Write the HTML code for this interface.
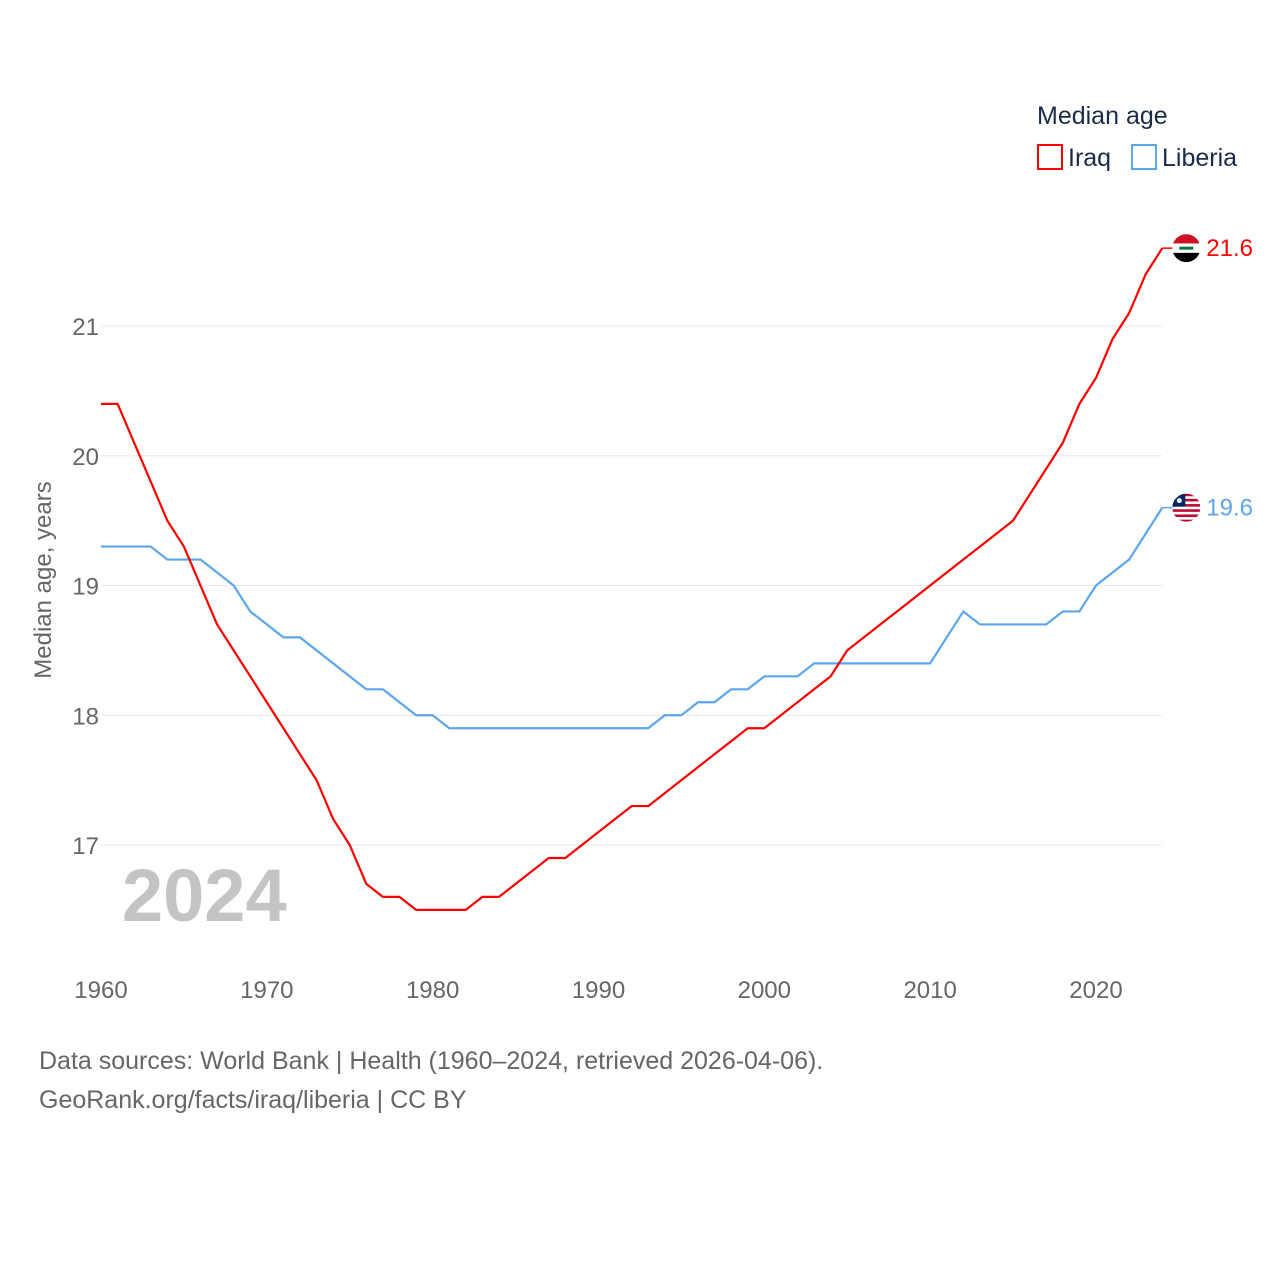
<!DOCTYPE html>
<html><head><meta charset="utf-8">
<style>
body{margin:0;background:#fff;font-family:"Liberation Sans",sans-serif;}
svg text{font-family:"Liberation Sans",sans-serif;}
</style></head>
<body>
<svg id="chart" width="1280" height="1280" xmlns="http://www.w3.org/2000/svg">
<defs id="defs"></defs>
<g id="grid"></g>
<g id="ticks"></g>
<text x="122" y="921" font-size="74" font-weight="bold" fill="#c4c4c4">2024</text>
<text transform="translate(51,580) rotate(-90)" text-anchor="middle" font-size="24" fill="#666">Median age, years</text>
<g id="series"></g>
<g>
<text x="1037" y="124" font-size="25" fill="#1a2b48">Median age</text>
<g><rect x="1038" y="145" width="24" height="24" fill="none" stroke="#ff0000" stroke-width="2"/><text x="1068" y="166" font-size="25" fill="#1a2b48">Iraq</text></g>
<g><rect x="1132" y="145" width="24" height="24" fill="none" stroke="#5ca6ec" stroke-width="2"/><text x="1162" y="166" font-size="25" fill="#1a2b48">Liberia</text></g>
</g>
<text x="39" y="1069" font-size="25" fill="#666">Data sources: World Bank | Health (1960–2024, retrieved 2026-04-06).</text>
<text x="39" y="1108" font-size="25" fill="#666">GeoRank.org/facts/iraq/liberia | CC BY</text>
</svg>
<script>
const years=[];for(let y=1960;y<=2024;y++)years.push(y);
const iraq=[20.4,20.4,20.1,19.8,19.5,19.3,19.0,18.7,18.5,18.3,18.1,17.9,17.7,17.5,17.2,17.0,16.7,16.6,16.6,16.5,16.5,16.5,16.5,16.6,16.6,16.7,16.8,16.9,16.9,17.0,17.1,17.2,17.3,17.3,17.4,17.5,17.6,17.7,17.8,17.9,17.9,18.0,18.1,18.2,18.3,18.5,18.6,18.7,18.8,18.9,19.0,19.1,19.2,19.3,19.4,19.5,19.7,19.9,20.1,20.4,20.6,20.9,21.1,21.4,21.6];
const liberia=[19.3,19.3,19.3,19.3,19.2,19.2,19.2,19.1,19.0,18.8,18.7,18.6,18.6,18.5,18.4,18.3,18.2,18.2,18.1,18.0,18.0,17.9,17.9,17.9,17.9,17.9,17.9,17.9,17.9,17.9,17.9,17.9,17.9,17.9,18.0,18.0,18.1,18.1,18.2,18.2,18.3,18.3,18.3,18.4,18.4,18.4,18.4,18.4,18.4,18.4,18.4,18.6,18.8,18.7,18.7,18.7,18.7,18.7,18.8,18.8,19.0,19.1,19.2,19.4,19.6];
const yTicks=[17,18,19,20,21];
const xTicks=[1960,1970,1980,1990,2000,2010,2020];
const X=y=>101+(y-1960)*16.583;
const Y=v=>326-(v-21)*129.75;
const NS="http://www.w3.org/2000/svg";
function mk(tag,attrs,parent){const e=document.createElementNS(NS,tag);for(const k in attrs)e.setAttribute(k,attrs[k]);parent.appendChild(e);return e;}
const grid=document.getElementById('grid'),ticks=document.getElementById('ticks'),ser=document.getElementById('series'),defs=document.getElementById('defs');
yTicks.forEach(t=>{
 const l=mk('line',{x1:101,x2:1162,y1:Y(t),y2:Y(t),stroke:'#e8e8e8','stroke-width':1},grid);
 
 
 const tx=mk('text',{x:99,y:Y(t)+9,'text-anchor':'end','font-size':24,fill:'#666'},ticks);tx.textContent=t;
 
 
});
xTicks.forEach(t=>{
 const tx=mk('text',{x:X(t),y:998,'text-anchor':'middle','font-size':24,fill:'#666'},ticks);tx.textContent=t;
 
 
});
function line(data,color,name){
 const p=mk('polyline',{points:data.map((v,i)=>X(years[i])+','+Y(v)).join(' '),fill:'none',stroke:color,'stroke-width':2.2,'stroke-linejoin':'round'},ser);
 
 
 const last=data[data.length-1],lx=X(years[years.length-1]),ly=Y(last);
 const cx=lx+24;
 mk('line',{x1:lx,x2:cx,y1:ly,y2:ly,stroke:color,'stroke-width':1.5},ser);
 const cp=mk('clipPath',{id:'clip-'+name},defs);
 mk('circle',{cx:cx,cy:ly,r:14},cp);
 const g=mk('g',{'clip-path':'url(#clip-'+name+')'},ser);
 
 
 if(name==='iraq'){
  mk('rect',{x:cx-14,y:ly-14,width:28,height:28,fill:'#fff'},g);
  mk('rect',{x:cx-14,y:ly-14,width:28,height:9.3,fill:'#ce1126'},g);
  mk('rect',{x:cx-14,y:ly+4.7,width:28,height:9.3,fill:'#000'},g);
  mk('rect',{x:cx-7,y:ly-1.5,width:14,height:3,fill:'#007a3d'},g);
 }else{
  mk('rect',{x:cx-14,y:ly-14,width:28,height:28,fill:'#fff'},g);
  for(let k=0;k<6;k++)mk('rect',{x:cx-14,y:ly-14+k*5.2,width:28,height:2.6,fill:'#bf0a30'},g);
  mk('rect',{x:cx-14,y:ly-14,width:13,height:13,fill:'#002868'},g);
  mk('circle',{cx:cx-7,cy:ly-7,r:2.5,fill:'#fff'},g);
 }
 const t=mk('text',{x:lx+44,y:ly+8,'font-size':24,fill:color},ser);t.textContent=last.toFixed(1);
 
 
}
line(liberia,'#5ca6ec','liberia');
line(iraq,'#ff0000','iraq');
</script>
</body></html>
